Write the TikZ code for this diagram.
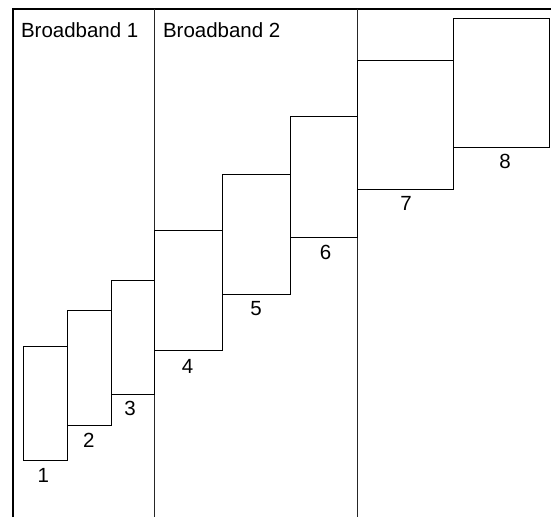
\documentclass[tikz,border=0pt]{standalone}
\usepackage{fontspec}
\setmainfont{Liberation Sans}
\begin{document}
\begin{tikzpicture}[x=1pt,y=-1pt,
  box/.style={draw=black, line width=0.8pt, inner sep=0pt, outer sep=0pt, anchor=north west},
  lab/.style={inner sep=0pt, font=\fontsize{20.5}{24}\selectfont},
  frame/.style={line width=2pt, black},
  sep/.style={line width=0.9pt, black!85}]
\useasboundingbox (0,0) rectangle (551,517);
% frame
\coordinate (fTL) at (13,8.7);
\coordinate (fBL) at (13,517);
\coordinate (fTR) at (551,8.7);
\draw[frame] (fBL) -- (fTL) -- (fTR);
% separators
\coordinate (s1t) at (154.8,8.7);
\coordinate (s1b) at (154.8,517);
\coordinate (s2t) at (357.3,8.7);
\coordinate (s2b) at (357.3,517);
\draw[sep] (s1t) -- (s1b);
\draw[sep] (s2t) -- (s2b);
% headers
\node[lab, anchor=base west] (h1) at (20.8,37.5) {Broadband 1};
\node[lab, anchor=base west] (h2) at (162.8,37.5) {Broadband 2};
% boxes
\node[box, minimum width=44pt, minimum height=114pt] (b1) at (23.3,346.7) {};
\node[box, minimum width=43.6pt, minimum height=114.3pt] (b2) at (67.3,310.7) {};
\node[box, minimum width=43.5pt, minimum height=114.3pt] (b3) at (111.3,280) {};
\node[box, minimum width=67.5pt, minimum height=120pt] (b4) at (154.8,230.3) {};
\node[box, minimum width=67.5pt, minimum height=120pt] (b5) at (222.5,174.7) {};
\node[box, minimum width=66.5pt, minimum height=120.3pt] (b6) at (290.8,116.7) {};
\node[box, minimum width=96.5pt, minimum height=128.7pt] (b7) at (357.3,60.3) {};
\node[box, minimum width=96pt, minimum height=128.7pt] (b8) at (453.7,18.3) {};
% labels
\node[lab] (l1) at (43.2,475.5) {1};
\node[lab] (l2) at (88.8,440.5) {2};
\node[lab] (l3) at (130,408) {3};
\node[lab] (l4) at (187.5,366.3) {4};
\node[lab] (l5) at (256,308.5) {5};
\node[lab] (l6) at (325.5,252.5) {6};
\node[lab] (l7) at (406,203) {7};
\node[lab] (l8) at (505,161.7) {8};
\end{tikzpicture}
\end{document}
